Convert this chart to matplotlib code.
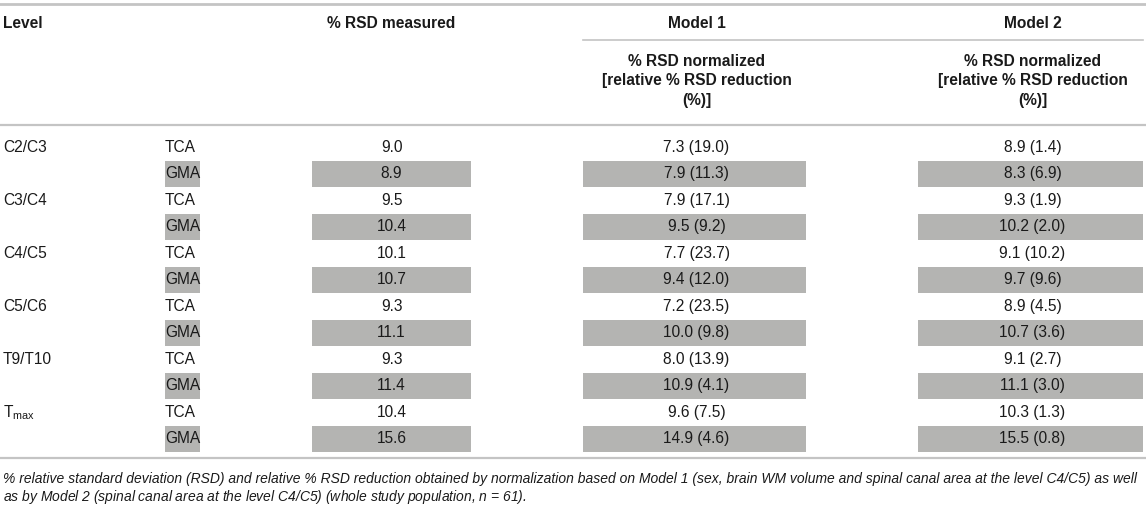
import matplotlib
matplotlib.use("Agg")
import matplotlib.pyplot as plt
from matplotlib.patches import Rectangle

plt.rcParams['font.family'] = ['Liberation Sans', 'DejaVu Sans']
plt.rcParams['mathtext.fontset'] = 'custom'
plt.rcParams['mathtext.rm'] = 'Liberation Sans'
plt.rcParams['mathtext.it'] = 'Liberation Sans:italic'

# Datos de la tabla
niveles = ["C2/C3", "C3/C4", "C4/C5", "C5/C6", "T9/T10", r"T$_{\mathrm{max}}$"]
medidas = ["TCA", "GMA"]
rsd_medido = [9.0, 8.9, 9.5, 10.4, 10.1, 10.7, 9.3, 11.1, 9.3, 11.4, 10.4, 15.6]
m1_rsd = [7.3, 7.9, 7.9, 9.5, 7.7, 9.4, 7.2, 10.0, 8.0, 10.9, 9.6, 14.9]
m1_red = [19.0, 11.3, 17.1, 9.2, 23.7, 12.0, 23.5, 9.8, 13.9, 4.1, 7.5, 4.6]
m2_rsd = [8.9, 8.3, 9.3, 10.2, 9.1, 9.7, 8.9, 10.7, 9.1, 11.1, 10.3, 15.5]
m2_red = [1.4, 6.9, 1.9, 2.0, 10.2, 9.6, 4.5, 3.6, 2.7, 3.0, 1.3, 0.8]

encabezado = ["Level", "% RSD measured", "Model 1", "Model 2"]
sub_encabezado = ["% RSD normalized", "[relative % RSD reduction", "(%)]"]
nota = ["% relative standard deviation (RSD) and relative % RSD reduction obtained by normalization "
        "based on Model 1 (sex, brain WM volume and spinal canal area at the level C4/C5) as well",
        "as by Model 2 (spinal canal area at the level C4/C5) (whole study population, $n$ = 61)."]

W, H = 1146, 508
fig = plt.figure(figsize=(W / 100, H / 100), dpi=100)
ax = fig.add_axes([0, 0, 1, 1])
ax.set_xlim(0, W)
ax.set_ylim(H, 0)
ax.axis("off")

color_txt = "#1a1a1a"
color_gris = "#b4b4b2"
color_linea = "#c4c4c4"
fs = 11.2

# columnas (izquierda, derecha)
col_medido = (312, 471)
col_m1 = (583, 806)
col_m2 = (918, 1143)

# líneas horizontales
ax.plot([0, W], [3.5, 3.5], color=color_linea, lw=2)
ax.plot([col_m1[0], col_m2[1]], [40, 40], color=color_linea, lw=1.2)
ax.plot([0, W], [125, 125], color=color_linea, lw=1.6)
ax.plot([0, W], [458, 458], color=color_linea, lw=1.6)

# encabezado
ax.text(3, 24, encabezado[0], fontsize=fs, fontweight="bold", color=color_txt, va="center")
ax.text(sum(col_medido) / 2, 24, encabezado[1], fontsize=fs, fontweight="bold",
        color=color_txt, va="center", ha="center")
for col, nombre in [(col_m1, encabezado[2]), (col_m2, encabezado[3])]:
    cx = sum(col) / 2 + 2
    ax.text(cx, 24, nombre, fontsize=fs, fontweight="bold", color=color_txt, va="center", ha="center")
    for j, linea in enumerate(sub_encabezado):
        ax.text(cx, 61 + 20 * j, linea, fontsize=fs, fontweight="bold", color=color_txt,
                va="center", ha="center")

# filas
y0, alto_fila = 134, 26.5
fig.canvas.draw()
renderer = fig.canvas.get_renderer()
for i in range(len(rsd_medido)):
    top = y0 + i * alto_fila
    yc = top + alto_fila / 2
    medida = medidas[i % 2]
    if i % 2 == 0:
        ax.text(3, yc, niveles[i // 2], fontsize=fs, color=color_txt, va="center")
    t = ax.text(165, yc, medida, fontsize=fs, color=color_txt, va="center", zorder=3)
    if medida == "GMA":
        bb = t.get_window_extent(renderer)
        ancho = bb.width
        ax.add_patch(Rectangle((165, top + 0.5), ancho, alto_fila - 1, color=color_gris, lw=0, zorder=1))
        for col in (col_medido, col_m1, col_m2):
            ax.add_patch(Rectangle((col[0], top + 0.5), col[1] - col[0], alto_fila - 1,
                                   color=color_gris, lw=0, zorder=1))
    ax.text(sum(col_medido) / 2, yc, f"{rsd_medido[i]:.1f}", fontsize=fs, color=color_txt,
            va="center", ha="center", zorder=3)
    ax.text(sum(col_m1) / 2 + 2, yc, f"{m1_rsd[i]:.1f} ({m1_red[i]:.1f})", fontsize=fs,
            color=color_txt, va="center", ha="center", zorder=3)
    ax.text(sum(col_m2) / 2 + 2, yc, f"{m2_rsd[i]:.1f} ({m2_red[i]:.1f})", fontsize=fs,
            color=color_txt, va="center", ha="center", zorder=3)

# nota al pie
for j, linea in enumerate(nota):
    ax.text(3, 479 + 18.5 * j, linea, fontsize=10.0, style="italic", color=color_txt, va="center")

fig.savefig("out.png", dpi=100)
